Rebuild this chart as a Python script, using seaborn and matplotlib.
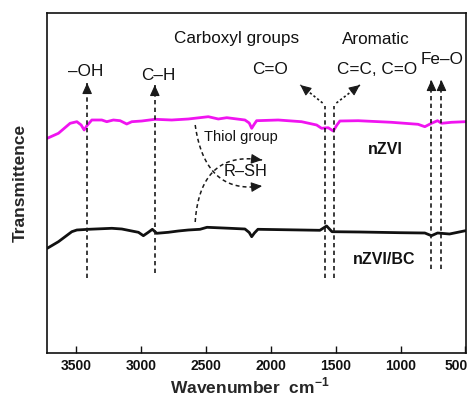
import numpy as np
import pandas as pd
import matplotlib
matplotlib.use("Agg")
import matplotlib.pyplot as plt
import matplotlib.transforms as mtransforms
import seaborn as sns

# FTIR spectra: wavenumber (cm-1) and offset transmittance (arbitrary units)
wn_nzvi = [3720, 3634, 3544, 3492, 3459, 3436, 3415, 3377, 3300, 3262, 3211,
           3159, 3108, 3069, 2992, 2890, 2762, 2634, 2480, 2403, 2338, 2198,
           2165, 2146, 2128, 2108, 1942, 1762, 1646, 1608, 1557, 1518, 1490,
           1467, 1326, 1069, 865, 813, 762, 715, 685, 608, 500]
t_nzvi = [214.7, 219.7, 229.7, 231.3, 228.0, 223.0, 227.3, 233.0, 233.0, 231.3,
          233.0, 232.3, 229.0, 231.3, 232.0, 233.7, 233.0, 234.0, 236.3, 234.0,
          235.3, 233.0, 230.0, 224.7, 228.5, 232.3, 233.0, 231.3, 228.0, 224.7,
          225.3, 222.0, 228.0, 232.0, 232.3, 230.7, 228.7, 226.3, 229.7, 232.3,
          229.7, 230.7, 231.3]

wn_bc = [3720, 3634, 3531, 3492, 3403, 3223, 3146, 3069, 3018, 2980, 2942,
         2911, 2877, 2788, 2711, 2634, 2544, 2490, 2313, 2198, 2165, 2146,
         2125, 2098, 1621, 1569, 1528, 1313, 1005, 813, 762, 715, 623, 500]
t_bc = [104.7, 111.3, 121.3, 123.0, 123.7, 124.7, 124.0, 122.0, 120.7, 117.3,
        120.7, 123.7, 119.7, 120.7, 122.0, 123.0, 123.7, 125.7, 124.7, 124.0,
        120.5, 116.3, 120.0, 123.7, 122.7, 127.0, 121.3, 121.0, 120.3, 120.0,
        117.3, 120.0, 119.0, 122.3]

series_names = ["nZVI", "nZVI/BC"]
series_colors = ["#f014f0", "#111111"]
x_ticks = [3500, 3000, 2500, 2000, 1500, 1000, 500]

df = pd.concat([
    pd.DataFrame({"wn": wn_nzvi, "t": t_nzvi, "sample": series_names[0]}),
    pd.DataFrame({"wn": wn_bc, "t": t_bc, "sample": series_names[1]}),
])

sns.set_theme(style="ticks")
plt.rcParams["font.family"] = ["Liberation Sans", "DejaVu Sans"]
plt.rcParams["mathtext.fontset"] = "custom"
plt.rcParams["mathtext.rm"] = "Liberation Sans"
plt.rcParams["mathtext.bf"] = "Liberation Sans:bold"

fig = plt.figure(figsize=(4.71, 3.98), dpi=100)
ax = fig.add_axes([47 / 471, 45 / 398, 419 / 471, 340 / 398])

sns.lineplot(data=df, x="wn", y="t", hue="sample", palette=series_colors,
             hue_order=series_names, estimator=None, sort=True, lw=2.0,
             legend=False, ax=ax)

ax.set_xlim(3722, 496)
ax.set_ylim(0, 340)
ax.set_xticks(x_ticks)
ax.set_xticklabels([str(v) for v in x_ticks], fontsize=10, fontweight="bold")
ax.set_yticks([])
ax.tick_params(axis="x", direction="in", length=5, width=1.0, pad=4,
               top=False, colors="#111111")
# keep the last tick label inside the figure edge
last = ax.get_xticklabels()[-1]
last.set_transform(last.get_transform() +
                   mtransforms.ScaledTranslation(-9 / 100, 0, fig.dpi_scale_trans))
for s in ax.spines.values():
    s.set_linewidth(1.2)
    s.set_color("#111111")
ax.set_xlabel("")
ax.set_ylabel("")

fig.text(249.5 / 471, 1 - 393 / 398, r"Wavenumber  cm$^{\mathbf{-1}}$",
         ha="center", va="baseline", fontsize=12.5, fontweight="bold")
fig.text(20 / 471, 1 - 182.5 / 398, "Transmittence", rotation=90,
         ha="center", va="center", fontsize=12.5, fontweight="bold")


def arrow_head(tip, frm, size=12):
    p1 = ax.transData.transform(tip)
    p0 = ax.transData.transform(frm)
    d = (p1 - p0) / np.linalg.norm(p1 - p0)
    back = ax.transData.inverted().transform(p1 - d * 9)
    ax.annotate("", xy=tip, xytext=back,
                arrowprops=dict(arrowstyle="-|>,head_length=0.55,head_width=0.25",
                                color="k", lw=0.8, shrinkA=0, shrinkB=0,
                                mutation_scale=size))


def dashed_arrow(x0, y0, x1, y1, dashes=(2.6, 2.0), lw=1.2):
    ax.plot([x0, x1], [y0, y1], color="k", lw=lw, dashes=dashes)
    arrow_head((x1, y1), (x0, y0))


def dashed_line(x0, y0, x1, y1, dashes=(2.6, 2.0), lw=1.2):
    ax.plot([x0, x1], [y0, y1], color="k", lw=lw, dashes=dashes)


# band markers
dashed_arrow(3413, 75, 3413, 270)           # O-H
dashed_arrow(2892, 80, 2892, 268)           # C-H
dashed_arrow(762, 84, 762, 273)             # Fe-O
dashed_arrow(685, 84, 685, 273)
dashed_line(1580, 75, 1580, 247)            # C=O / C=C
dashed_line(1511, 75, 1511, 247)
dashed_arrow(1600, 250, 1772, 268, dashes=(1.4, 1.4))
dashed_arrow(1494, 250, 1313, 268, dashes=(1.4, 1.4))

# thiol group curves
t = np.linspace(0, 1, 60)[:, None]


def bezier(p0, p1, p2):
    p0, p1, p2 = map(np.asarray, (p0, p1, p2))
    return (1 - t) ** 2 * p0 + 2 * (1 - t) * t * p1 + t ** 2 * p2


for pts in (bezier((2581, 228), (2505, 158), (2066, 167)),
            bezier((2581, 131), (2543, 203), (2066, 193))):
    ax.plot(pts[:, 0], pts[:, 1], color="k", lw=1.1, dashes=(2.6, 2.0))
    arrow_head(tuple(pts[-1]), tuple(pts[-6]))

# labels
txt = dict(ha="center", va="center", fontsize=12.3, color="#111111")
ax.text(2266, 314, "Carboxyl groups", **txt)
ax.text(1190, 313, "Aromatic", **txt)
ax.text(2005, 284, "C=O", **txt)
ax.text(1182, 284, "C=C, C=O", **txt)
ax.text(682, 294, "Fe\u2013O", **txt)
ax.text(3421, 282, "\u2013OH", **txt)
ax.text(2867, 278, "C\u2013H", **txt)
ax.text(2227, 216, "Thiol group", ha="center", va="center", fontsize=10.5,
        color="#111111")
ax.text(2196, 181, "R\u2013SH", ha="center", va="center", fontsize=11.8,
        color="#111111")
ax.text(1121, 203, series_names[0], ha="center", va="center", fontsize=11.5,
        fontweight="bold", color="#111111")
ax.text(1128, 93, series_names[1], ha="center", va="center", fontsize=11.5,
        fontweight="bold", color="#111111")

fig.savefig("out.png", dpi=100)
